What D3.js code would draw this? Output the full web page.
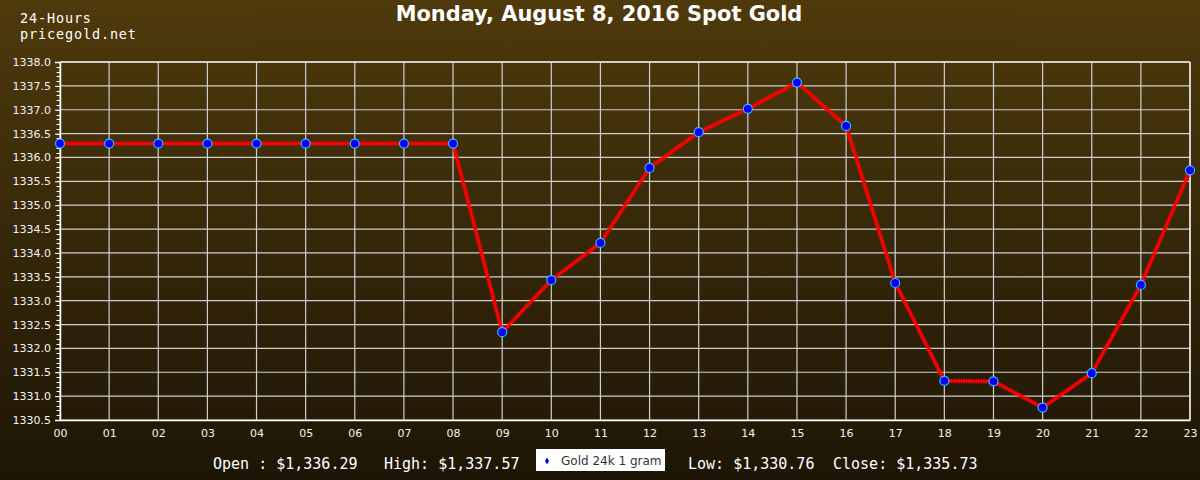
<!DOCTYPE html>
<html><head><meta charset="utf-8">
<script src="https://cdn.jsdelivr.net/npm/d3@7"></script>
<style>html,body{margin:0;padding:0;background:#000}svg{display:block}</style>
</head><body>
<script>
const hours = ["00","01","02","03","04","05","06","07","08","09","10","11","12","13","14","15","16","17","18","19","20","21","22","23"];
const prices = [1336.29,1336.29,1336.29,1336.29,1336.29,1336.29,1336.29,1336.29,1336.29,1332.34,1333.43,1334.21,1335.78,1336.53,1337.02,1337.57,1336.66,1333.37,1331.32,1331.31,1330.76,1331.48,1333.33,1335.73];
const yTicks = [1330.5,1331.0,1331.5,1332.0,1332.5,1333.0,1333.5,1334.0,1334.5,1335.0,1335.5,1336.0,1336.5,1337.0,1337.5,1338.0];
const title = "Monday, August 8, 2016 Spot Gold";
const subtitle = ["24-Hours","pricegold.net"];
const summary = [["Open : $1,336.29",213],["High: $1,337.57",384],["Low: $1,330.76",688],["Close: $1,335.73",833]];
const seriesName = "Gold 24k 1 gram";

const W=1200,H=480, L=60,R=1190,T=62,B=420;
const svg=d3.select("body").append("svg").attr("width",W).attr("height",H);
const defs=svg.append("defs");
const g=defs.append("linearGradient").attr("id","bg").attr("x1",0).attr("y1",0).attr("x2",0).attr("y2",1);
g.append("stop").attr("offset","0%").attr("stop-color","#4f3a0c");
g.append("stop").attr("offset","100%").attr("stop-color","#1d1506");
svg.append("rect").attr("width",W).attr("height",H).attr("fill","url(#bg)");

const x=d3.scalePoint().domain(hours).range([L,R]);
const y=d3.scaleLinear().domain([1330.5,1338.0]).range([B,T]);

// grid
const grid=svg.append("g");
grid.selectAll("line.v").data(hours).enter().append("line")
 .attr("x1",d=>x(d)).attr("x2",d=>x(d)).attr("y1",T).attr("y2",B)
 .attr("stroke","#cfcfcf").attr("stroke-width",1.2);
grid.selectAll("line.h").data(yTicks).enter().append("line")
 .attr("x1",L).attr("x2",R).attr("y1",d=>y(d)).attr("y2",d=>y(d))
 .attr("stroke","#cfcfcf").attr("stroke-width",1.2);

// minor ticks
const minor=d3.range(13305,13381,1).map(v=>v/10);
svg.append("g").selectAll("line").data(minor).enter().append("line")
 .attr("x1",L-3.5).attr("x2",L).attr("y1",d=>Math.round(y(d))+0.5).attr("y2",d=>Math.round(y(d))+0.5)
 .attr("stroke","#fff").attr("stroke-width",1);

// y axis
const ya=svg.append("g").attr("transform",`translate(${L},0)`)
 .call(d3.axisLeft(y).tickValues(yTicks).tickFormat(d3.format(".1f")).tickSize(5).tickPadding(4));
ya.select(".domain").attr("stroke","#fff").attr("stroke-width",1.5);
ya.selectAll(".tick line").attr("stroke","#fff");
ya.selectAll("text").attr("fill","#f2f2f2").style("font-family","DejaVu Sans").style("font-size","11px");

// x axis
const xa=svg.append("g").attr("transform",`translate(0,${B})`)
 .call(d3.axisBottom(x).tickSize(0).tickPadding(9));
xa.select(".domain").attr("stroke","#fff").attr("stroke-width",1.5);
xa.selectAll("text").attr("fill","#f2f2f2").style("font-family","DejaVu Sans").style("font-size","11px");

// top/right border
svg.append("line").attr("x1",L).attr("x2",R).attr("y1",T).attr("y2",T).attr("stroke","#e8e8e8").attr("stroke-width",1.5);
svg.append("line").attr("x1",R).attr("x2",R).attr("y1",T).attr("y2",B).attr("stroke","#e8e8e8").attr("stroke-width",1.5);

// line
const line=d3.line().x((d,i)=>x(hours[i])).y(d=>y(d));
svg.append("path").datum(prices).attr("d",line).attr("fill","none")
 .attr("stroke","#ff0000").attr("stroke-width",4.5).attr("stroke-dasharray","1.5,1");
svg.append("path").datum(prices).attr("d",line).attr("fill","none")
 .attr("stroke","#ff0000").attr("stroke-width",2.2);

svg.append("g").selectAll("circle").data(prices).enter().append("circle")
 .attr("cx",(d,i)=>x(hours[i])).attr("cy",d=>y(d)).attr("r",4.5)
 .attr("fill","#0000ff").attr("stroke","#33bbff").attr("stroke-width",1.2);

// title
svg.append("text").attr("x",599).attr("y",21).attr("text-anchor","middle")
 .attr("fill","#fff").style("font-family","DejaVu Sans").style("font-weight","bold").style("font-size","20.9px").text(title);
const subW=[71,116];
subtitle.forEach((s,i)=>svg.append("text").attr("x",20).attr("y",23+i*16)
 .attr("fill","#fff").style("font-family","DejaVu Sans Mono").style("font-size","13.5px")
 .attr("textLength",subW[i]).attr("lengthAdjust","spacing").text(s));

// summary
summary.forEach(([s,px])=>svg.append("text").attr("x",px).attr("y",469)
 .attr("fill","#fff").style("font-family","DejaVu Sans Mono").style("font-size","15px").text(s));

// legend
svg.append("rect").attr("x",536).attr("y",449).attr("width",129).attr("height",22).attr("fill","#fff");
svg.append("path").attr("d",d3.symbol().type(d3.symbolDiamond).size(14)()).attr("transform","translate(547,461)").attr("fill","#0000ff");
svg.append("text").attr("x",561).attr("y",465).attr("fill","#333").style("font-family","DejaVu Sans").style("font-size","12px").text(seriesName);
</script>
</body></html>
